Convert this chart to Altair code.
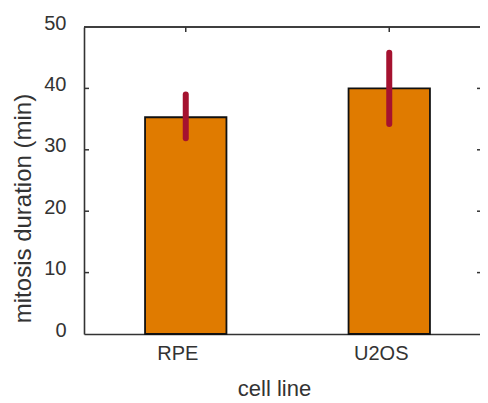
import altair as alt
import pandas as pd

cells = ["RPE", "U2OS"]
means = [35.3, 40.0]
err_lo = [31.9, 34.2]
err_hi = [39.0, 45.8]
y_ticks = [0, 10, 20, 30, 40, 50]
inner_ticks = [10, 20, 30, 40]

df = pd.DataFrame({"cell": cells, "mean": means, "lo": err_lo, "hi": err_hi})
tdf = pd.DataFrame({"val": inner_ticks})

FONT = "Liberation Sans"
W, H = 396, 307      # visible part of the plot area (the frame runs past the right edge)
RANGE_W = 407        # full width of the plot frame

xscale = alt.Scale(range=[0, RANGE_W], paddingInner=0.6, paddingOuter=0.3)
yscale = alt.Scale(domain=[0, 50], nice=False)

bars = alt.Chart(df).mark_bar(color="#E07B00", stroke="#111", strokeWidth=1.8).encode(
    x=alt.X("cell:N", scale=xscale, sort=cells,
            axis=alt.Axis(title="cell line", labelAngle=0, ticks=False, labelPadding=9,
                          labelOffset=-8, labelFontSize=20, titleFontSize=22,
                          titlePadding=15, titleX=190,
                          domainColor="#333", domainWidth=1.6)),
    y=alt.Y("mean:Q", scale=yscale,
            axis=alt.Axis(title="mitosis duration (min)", values=y_ticks, ticks=False,
                          grid=False, labelPadding=18, labelOffset=-4, titlePadding=8,
                          labelFontSize=20, titleFontSize=24, titleY=181,
                          domainColor="#333", domainWidth=1.6)),
)

errs = alt.Chart(df).mark_rule(color="#A5122F", strokeWidth=6, strokeCap="round").encode(
    x=alt.X("cell:N", scale=xscale, sort=cells),
    y=alt.Y("lo:Q", scale=yscale),
    y2="hi:Q",
)

left_ticks = alt.Chart(tdf).mark_rule(color="#333", strokeWidth=1.5).encode(
    y=alt.Y("val:Q", scale=yscale), x=alt.value(0), x2=alt.value(5)
)
right_ticks = alt.Chart(tdf).mark_rule(color="#333", strokeWidth=1.5).encode(
    y=alt.Y("val:Q", scale=yscale), x=alt.value(W - 3), x2=alt.value(W)
)
top_ticks = alt.Chart(df).mark_rule(color="#333", strokeWidth=1.5).encode(
    x=alt.X("cell:N", scale=xscale, sort=cells), y=alt.value(0), y2=alt.value(5)
)
top_border = alt.Chart(df).mark_rule(color="#333", strokeWidth=1.6).encode(
    x=alt.value(0), x2=alt.value(W), y=alt.value(0)
)

chart = alt.layer(bars, errs, left_ticks, right_ticks, top_ticks, top_border).properties(
    width=W, height=H,
    autosize=alt.AutoSizeParams(type="none"),
    padding={"left": 76, "top": 19, "right": 0, "bottom": 66},
).configure_view(stroke=None).configure_axis(
    labelFont=FONT, titleFont=FONT,
    labelColor="#333", titleColor="#333", titleFontWeight="normal",
)

chart.save("out.html", embed_options={"renderer": "svg", "actions": False})
